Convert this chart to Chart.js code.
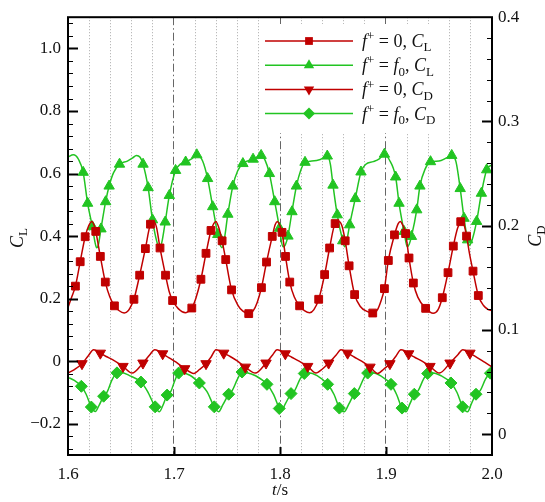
<!DOCTYPE html>
<html>
<head>
<meta charset="utf-8">
<script src="https://cdn.jsdelivr.net/npm/chart.js@4.4.1/dist/chart.umd.min.js"></script>
<style>
  html, body { margin: 0; padding: 0; background: #fff; }
  #wrap { width: 545px; height: 502px; }
</style>
</head>
<body>
<div id="wrap"><canvas id="chart" width="545" height="502"></canvas></div>
<script>
// readings [t (s), value] taken from the figure
// f+ = 0, CL (left axis)
const clBase = [
  [1.600, 0.172], [1.6035, 0.205], [1.607, 0.240], [1.6115, 0.318], [1.6162, 0.398], [1.6195, 0.433],
  [1.6225, 0.447], [1.6245, 0.436], [1.6262, 0.415], [1.6305, 0.335], [1.6352, 0.253], [1.6395, 0.205],
  [1.6438, 0.177], [1.648, 0.162], [1.653, 0.154], [1.657, 0.162], [1.660, 0.180], [1.6622, 0.198],
  [1.6676, 0.275], [1.673, 0.360], [1.6778, 0.438], [1.681, 0.446], [1.6835, 0.428], [1.6868, 0.362],
  [1.692, 0.275], [1.6955, 0.222], [1.6987, 0.194], [1.704, 0.168], [1.711, 0.155], [1.714, 0.160],
  [1.7168, 0.170], [1.7205, 0.200], [1.7254, 0.262], [1.7302, 0.345], [1.7349, 0.418], [1.7375, 0.440],
  [1.7395, 0.447], [1.742, 0.430], [1.7454, 0.385], [1.7488, 0.325], [1.7543, 0.228], [1.7605, 0.178],
  [1.765, 0.160], [1.7705, 0.152], [1.7745, 0.160], [1.7785, 0.188], [1.7825, 0.235], [1.7873, 0.317],
  [1.7927, 0.399], [1.7955, 0.437], [1.7975, 0.447], [1.7995, 0.437], [1.8019, 0.412], [1.8052, 0.335],
  [1.8092, 0.253], [1.8135, 0.205], [1.8185, 0.177], [1.823, 0.162], [1.828, 0.155], [1.832, 0.165],
  [1.8365, 0.198], [1.8421, 0.277], [1.8468, 0.362], [1.852, 0.440], [1.856, 0.446], [1.8585, 0.432],
  [1.8615, 0.385], [1.8652, 0.305], [1.8704, 0.213], [1.876, 0.174], [1.8815, 0.160], [1.8875, 0.154],
  [1.892, 0.165], [1.8955, 0.195], [1.8985, 0.232], [1.9022, 0.322], [1.908, 0.404], [1.9115, 0.440],
  [1.9135, 0.447], [1.9158, 0.435], [1.9185, 0.408], [1.9217, 0.330], [1.9258, 0.250], [1.930, 0.205],
  [1.9374, 0.169], [1.9445, 0.153], [1.949, 0.164], [1.9531, 0.203], [1.9585, 0.283], [1.9635, 0.368],
  [1.9675, 0.425], [1.9705, 0.446], [1.972, 0.448], [1.974, 0.432], [1.976, 0.400], [1.979, 0.340],
  [1.9821, 0.288], [1.9871, 0.210], [1.992, 0.178], [1.996, 0.166], [2.000, 0.161]
];
const clBaseMarks = [
  1.607, 1.6115, 1.6162, 1.6262, 1.6305, 1.6352, 1.6438, 1.6622, 1.6676, 1.673, 1.6778, 1.6868, 1.692,
  1.6987, 1.7168, 1.7254, 1.7302, 1.7349, 1.7454, 1.7488, 1.7543, 1.7705, 1.7825, 1.7873, 1.7927, 1.8019,
  1.8052, 1.8092, 1.8185, 1.8365, 1.8421, 1.8468, 1.852, 1.8615, 1.8652, 1.8704, 1.8875, 1.8985, 1.9022,
  1.908, 1.9185, 1.9217, 1.9258, 1.9374, 1.9531, 1.9585, 1.9635, 1.9705, 1.976, 1.9821, 1.9871
];

// f+ = f0, CL (left axis)
const clCtrl = [
  [1.600, 0.653], [1.605, 0.660], [1.610, 0.645], [1.6143, 0.604], [1.6185, 0.505], [1.623, 0.430],
  [1.6255, 0.380], [1.627, 0.363], [1.6285, 0.370], [1.6311, 0.423], [1.6355, 0.510], [1.6388, 0.560],
  [1.643, 0.603], [1.6486, 0.630], [1.656, 0.640], [1.661, 0.650], [1.6645, 0.658], [1.668, 0.652],
  [1.6708, 0.630], [1.6756, 0.555], [1.6797, 0.452], [1.684, 0.380], [1.6865, 0.363], [1.6885, 0.380],
  [1.6917, 0.445], [1.6956, 0.530], [1.7015, 0.610], [1.706, 0.630], [1.711, 0.637], [1.717, 0.648],
  [1.7215, 0.660], [1.727, 0.640], [1.7317, 0.584], [1.7365, 0.494], [1.7413, 0.405], [1.7435, 0.372],
  [1.7452, 0.363], [1.747, 0.380], [1.7508, 0.470], [1.7555, 0.560], [1.760, 0.608], [1.765, 0.632],
  [1.7746, 0.646], [1.7822, 0.658], [1.786, 0.642], [1.790, 0.600], [1.795, 0.510], [1.7995, 0.425],
  [1.8015, 0.380], [1.803, 0.366], [1.805, 0.372], [1.8075, 0.400], [1.8113, 0.478], [1.8155, 0.560],
  [1.8195, 0.610], [1.8236, 0.636], [1.830, 0.640], [1.838, 0.645], [1.8446, 0.656], [1.8475, 0.630],
  [1.850, 0.563], [1.854, 0.468], [1.8592, 0.385], [1.861, 0.366], [1.863, 0.385], [1.8657, 0.436],
  [1.871, 0.520], [1.8764, 0.605], [1.881, 0.630], [1.888, 0.638], [1.894, 0.648], [1.8985, 0.662],
  [1.903, 0.645], [1.9091, 0.589], [1.9123, 0.505], [1.917, 0.415], [1.920, 0.366], [1.922, 0.375],
  [1.924, 0.399], [1.929, 0.484], [1.932, 0.560], [1.937, 0.615], [1.942, 0.638], [1.950, 0.640],
  [1.957, 0.650], [1.962, 0.658], [1.966, 0.638], [1.970, 0.552], [1.9736, 0.457], [1.977, 0.388],
  [1.9785, 0.370], [1.981, 0.385], [1.9855, 0.447], [1.990, 0.537], [1.995, 0.612], [2.000, 0.628]
];
const clCtrlMarks = [
  1.6143, 1.6185, 1.623, 1.6311, 1.6355, 1.6388, 1.6486, 1.6708, 1.6756, 1.6797, 1.6917, 1.6956, 1.7015,
  1.711, 1.7215, 1.7317, 1.7365, 1.7413, 1.7508, 1.7555, 1.765, 1.7746, 1.7822, 1.790, 1.795, 1.7995,
  1.8075, 1.8113, 1.8155, 1.8236, 1.8446, 1.850, 1.854, 1.8592, 1.8657, 1.871, 1.8764, 1.8985, 1.9091,
  1.9123, 1.917, 1.924, 1.929, 1.932, 1.942, 1.962, 1.970, 1.9736, 1.977, 1.9855, 1.990, 1.995
];

// f+ = 0, CD (right axis)
const cdBase = [
  [1.600, 0.0586], [1.606, 0.0620], [1.6132, 0.0676], [1.619, 0.0750], [1.6242, 0.0810], [1.627, 0.0800],
  [1.6305, 0.0777], [1.636, 0.0745], [1.642, 0.0715], [1.6519, 0.0650], [1.6604, 0.0586], [1.6707, 0.0682],
  [1.677, 0.0760], [1.6818, 0.0810], [1.685, 0.0800], [1.6893, 0.0771], [1.695, 0.0735], [1.702, 0.0690],
  [1.7101, 0.0628], [1.7186, 0.0582], [1.724, 0.0620], [1.7302, 0.0676], [1.735, 0.0740], [1.7396, 0.0810],
  [1.743, 0.0800], [1.7469, 0.0777], [1.753, 0.0745], [1.760, 0.0700], [1.7673, 0.0643], [1.7767, 0.0586],
  [1.7868, 0.0682], [1.793, 0.0760], [1.7972, 0.0810], [1.8005, 0.0800], [1.805, 0.0771], [1.811, 0.0738],
  [1.818, 0.0700], [1.8261, 0.0650], [1.8339, 0.0586], [1.840, 0.0625], [1.8459, 0.0682], [1.853, 0.0760],
  [1.8575, 0.0810], [1.8605, 0.0800], [1.8638, 0.0777], [1.870, 0.0740], [1.877, 0.0700], [1.8849, 0.0643],
  [1.8921, 0.0582], [1.898, 0.0625], [1.9037, 0.0676], [1.9095, 0.0750], [1.9141, 0.0810], [1.9175, 0.0800],
  [1.9214, 0.0771], [1.927, 0.0738], [1.934, 0.0700], [1.9415, 0.0650], [1.9503, 0.0586], [1.9604, 0.0682],
  [1.968, 0.0765], [1.9723, 0.0810], [1.9755, 0.0800], [1.9792, 0.0777], [1.986, 0.0735], [1.993, 0.0690],
  [2.000, 0.0645]
];
const cdBaseMarks = [
  1.6132, 1.6305, 1.6519, 1.6707, 1.6893, 1.7101, 1.7302, 1.7469, 1.7673, 1.7868, 1.805, 1.8261, 1.8459,
  1.8638, 1.8849, 1.9037, 1.9214, 1.9415, 1.9604, 1.9792
];

// f+ = f0, CD (right axis)
const cdCtrl = [
  [1.600, 0.0545], [1.606, 0.0515], [1.6126, 0.0459], [1.617, 0.0385], [1.622, 0.0260], [1.6258, 0.0218],
  [1.629, 0.0270], [1.6336, 0.0364], [1.637, 0.0405], [1.6415, 0.0520], [1.6462, 0.0588], [1.650, 0.0592],
  [1.658, 0.0562], [1.6688, 0.0500], [1.675, 0.0410], [1.6822, 0.0262], [1.6862, 0.0215], [1.6895, 0.0275],
  [1.6935, 0.0375], [1.697, 0.0410], [1.701, 0.0520], [1.7044, 0.0586], [1.708, 0.0590], [1.715, 0.0565],
  [1.7239, 0.0491], [1.731, 0.0410], [1.738, 0.0262], [1.7421, 0.0215], [1.746, 0.0280], [1.7516, 0.0383],
  [1.755, 0.0420], [1.760, 0.0530], [1.7642, 0.0596], [1.768, 0.0592], [1.777, 0.0560], [1.7877, 0.0478],
  [1.794, 0.0380], [1.7993, 0.0246], [1.801, 0.0220], [1.805, 0.0290], [1.8104, 0.0389], [1.814, 0.0420],
  [1.819, 0.0530], [1.8229, 0.0582], [1.827, 0.0590], [1.835, 0.0562], [1.8449, 0.0478], [1.851, 0.0380],
  [1.856, 0.0250], [1.8605, 0.0215], [1.865, 0.0290], [1.8701, 0.0389], [1.874, 0.0425], [1.879, 0.0535],
  [1.8827, 0.0586], [1.887, 0.0590], [1.895, 0.0560], [1.9047, 0.0478], [1.910, 0.0380], [1.9151, 0.0250],
  [1.9188, 0.0215], [1.9225, 0.0290], [1.9267, 0.0383], [1.9305, 0.0420], [1.9355, 0.0530], [1.9393, 0.0582],
  [1.943, 0.0590], [1.952, 0.0560], [1.9613, 0.0491], [1.967, 0.0400], [1.9723, 0.0262], [1.977, 0.0215],
  [1.9805, 0.0290], [1.9849, 0.0383], [1.989, 0.0420], [1.994, 0.0530], [1.9985, 0.0585], [2.000, 0.0588]
];
const cdCtrlMarks = [
  1.6126, 1.622, 1.6336, 1.6462, 1.6688, 1.6822, 1.6935, 1.7044, 1.7239, 1.738, 1.7516, 1.7642, 1.7877,
  1.7993, 1.8104, 1.8229, 1.8449, 1.856, 1.8701, 1.8827, 1.9047, 1.9151, 1.9267, 1.9393, 1.9613, 1.9723,
  1.9849, 1.9985
];

// axis ticks
const tMajor = [1.6, 1.7, 1.8, 1.9, 2.0];
const clTicks = [-0.2, 0, 0.2, 0.4, 0.6, 0.8, 1.0];
const cdTicks = [0, 0.1, 0.2, 0.3, 0.4];

const RED = "#c00000";
const GREEN = "#22c422";
const FONT = "'Liberation Serif', 'Times New Roman', serif";
const TEXT = "#111";

Chart.defaults.font.family = FONT;

// dotted grid every 0.02 s
const tGrid = [];
for (let i = 0; i <= 20; i++) tGrid.push(Math.round((1.6 + i * 0.02) * 100) / 100);

function isTenth(v) {
  return Math.abs(v * 10 - Math.round(v * 10)) < 1e-6;
}

function fmtAxis(v) {
  if (Math.abs(v) < 1e-9) return "0";
  if (v < 0) return "\u2212" + Math.abs(v).toFixed(1);
  return v.toFixed(1);
}

function toPoints(series) {
  return series.map((p) => ({ x: p[0], y: p[1] }));
}

function markPoints(series, marks) {
  return marks.map((t) => {
    const p = series.find((q) => q[0] === t);
    return { x: p[0], y: p[1] };
  });
}

function curveSet(series, color, axis) {
  return {
    data: toPoints(series),
    yAxisID: axis,
    borderColor: color,
    borderWidth: 1.5,
    pointRadius: 0,
    pointHoverRadius: 0,
    cubicInterpolationMode: "monotone",
    fill: false,
  };
}

function markSet(series, marks, color, axis, style, radius, rotation) {
  return {
    data: markPoints(series, marks),
    yAxisID: axis,
    showLine: false,
    pointStyle: style,
    pointRadius: radius,
    pointHoverRadius: radius,
    pointRotation: rotation || 0,
    backgroundColor: color,
    borderColor: color,
    borderWidth: 1,
  };
}

// mixed italic / sub / sup text
function drawRich(ctx, parts, x, y, size, align) {
  const fontOf = (p) =>
    (p.i ? "italic " : "") + (p.s ? Math.round(size * 0.72) : size) + "px " + FONT;
  let w = 0;
  parts.forEach((p) => {
    ctx.font = fontOf(p);
    w += ctx.measureText(p.t).width;
  });
  let cx = align === "center" ? x - w / 2 : x;
  ctx.textAlign = "left";
  ctx.textBaseline = "alphabetic";
  ctx.fillStyle = TEXT;
  parts.forEach((p) => {
    ctx.font = fontOf(p);
    const dy = p.s === "sub" ? size * 0.24 : p.s === "sup" ? -size * 0.38 : 0;
    ctx.fillText(p.t, cx, y + dy);
    cx += ctx.measureText(p.t).width;
  });
}

function drawMarker(ctx, style, x, y, r, color) {
  ctx.fillStyle = color;
  ctx.beginPath();
  if (style === "rect") {
    const s = r * Math.SQRT1_2;
    ctx.rect(x - s, y - s, 2 * s, 2 * s);
  } else if (style === "triangle") {
    ctx.moveTo(x, y - r);
    ctx.lineTo(x + r * 0.866, y + r / 2);
    ctx.lineTo(x - r * 0.866, y + r / 2);
  } else if (style === "down") {
    ctx.moveTo(x, y + r);
    ctx.lineTo(x + r * 0.866, y - r / 2);
    ctx.lineTo(x - r * 0.866, y - r / 2);
  } else {
    ctx.moveTo(x, y - r);
    ctx.lineTo(x + r, y);
    ctx.lineTo(x, y + r);
    ctx.lineTo(x - r, y);
  }
  ctx.closePath();
  ctx.fill();
}

const legendItems = [
  { color: RED, style: "rect", r: 5.5, parts: [{ t: "f", i: 1 }, { t: "+", s: "sup" }, { t: " = 0, " }, { t: "C", i: 1 }, { t: "L", s: "sub" }] },
  { color: GREEN, style: "triangle", r: 6, parts: [{ t: "f", i: 1 }, { t: "+", s: "sup" }, { t: " = " }, { t: "f", i: 1 }, { t: "0", s: "sub" }, { t: ", " }, { t: "C", i: 1 }, { t: "L", s: "sub" }] },
  { color: RED, style: "down", r: 6, parts: [{ t: "f", i: 1 }, { t: "+", s: "sup" }, { t: " = 0, " }, { t: "C", i: 1 }, { t: "D", s: "sub" }] },
  { color: GREEN, style: "diamond", r: 6, parts: [{ t: "f", i: 1 }, { t: "+", s: "sup" }, { t: " = " }, { t: "f", i: 1 }, { t: "0", s: "sub" }, { t: ", " }, { t: "C", i: 1 }, { t: "D", s: "sub" }] },
];

// frame, inward ticks, legend and axis titles
const decorPlugin = {
  id: "decor",
  afterDatasetsDraw(chart) {
    const { ctx, chartArea: a, scales } = chart;
    ctx.save();
    ctx.strokeStyle = "#000";

    // left axis ticks (CL), every 0.04
    for (let k = -7; k <= 27; k++) {
      const major = k % 5 === 0;
      const y = Math.round(scales.y.getPixelForValue(k * 0.04)) + 0.5;
      ctx.lineWidth = major ? 2 : 1;
      ctx.beginPath();
      ctx.moveTo(a.left, y);
      ctx.lineTo(a.left + (major ? 10 : 5), y);
      ctx.stroke();
    }
    // right axis ticks (CD), every 0.02
    for (let k = 0; k <= 19; k++) {
      const major = k % 5 === 0;
      const y = Math.round(scales.y1.getPixelForValue(k * 0.02)) + 0.5;
      ctx.lineWidth = major ? 2 : 1;
      ctx.beginPath();
      ctx.moveTo(a.right, y);
      ctx.lineTo(a.right - (major ? 10 : 5), y);
      ctx.stroke();
    }
    // bottom ticks
    tMajor.slice(1, -1).forEach((t) => {
      const x = Math.round(scales.x.getPixelForValue(t)) + 0.5;
      ctx.lineWidth = 2;
      ctx.beginPath();
      ctx.moveTo(x, a.bottom);
      ctx.lineTo(x, a.bottom - 8);
      ctx.stroke();
    });

    // frame
    ctx.lineWidth = 2;
    ctx.strokeRect(a.left, a.top, a.right - a.left, a.bottom - a.top);

    // legend
    ctx.fillStyle = "#fff";
    ctx.fillRect(261, 24, 185, 109);
    legendItems.forEach((item, i) => {
      const y = 41 + i * 24.2;
      ctx.strokeStyle = item.color;
      ctx.lineWidth = 1.5;
      ctx.beginPath();
      ctx.moveTo(265, y);
      ctx.lineTo(353, y);
      ctx.stroke();
      drawMarker(ctx, item.style, 309, y, item.r, item.color);
      drawRich(ctx, item.parts, 362, y + 6, 18, "left");
    });

    // axis titles
    drawRich(ctx, [{ t: "t", i: 1 }, { t: "/s" }], (a.left + a.right) / 2, 495, 17, "center");
    ctx.save();
    ctx.translate(23, 238);
    ctx.rotate(-Math.PI / 2);
    drawRich(ctx, [{ t: "C", i: 1 }, { t: "L", s: "sub" }], 0, 0, 18, "center");
    ctx.restore();
    ctx.save();
    ctx.translate(541, 236);
    ctx.rotate(-Math.PI / 2);
    drawRich(ctx, [{ t: "C", i: 1 }, { t: "D", s: "sub" }], 0, 0, 18, "center");
    ctx.restore();

    ctx.restore();
  },
};

const tickFont = { family: FONT, size: 17 };

new Chart(document.getElementById("chart"), {
  type: "line",
  data: {
    datasets: [
      curveSet(clBase, RED, "y"),
      markSet(clBase, clBaseMarks, RED, "y", "rect", 5.5),
      curveSet(clCtrl, GREEN, "y"),
      markSet(clCtrl, clCtrlMarks, GREEN, "y", "triangle", 6),
      curveSet(cdBase, RED, "y1"),
      markSet(cdBase, cdBaseMarks, RED, "y1", "triangle", 6, 180),
      curveSet(cdCtrl, GREEN, "y1"),
      markSet(cdCtrl, cdCtrlMarks, GREEN, "y1", "rectRot", 6),
    ],
  },
  options: {
    responsive: false,
    animation: false,
    devicePixelRatio: 1,
    layout: { padding: { top: 15, left: 0, right: 0, bottom: 0 } },
    plugins: {
      legend: { display: false },
      tooltip: { enabled: false },
    },
    scales: {
      x: {
        type: "linear",
        min: 1.6,
        max: 2.0,
        afterBuildTicks: (s) => {
          s.ticks = tGrid.map((v) => ({ value: v }));
        },
        afterFit: (s) => {
          s.height = 47;
        },
        ticks: {
          autoSkip: false,
          maxRotation: 0,
          padding: 9,
          color: TEXT,
          font: tickFont,
          callback: (v) => (isTenth(v) ? v.toFixed(1) : ""),
        },
        grid: {
          drawTicks: false,
          lineWidth: 1,
          color: (ctx) => {
            const v = ctx.tick ? ctx.tick.value : 0;
            if (v <= 1.6001 || v >= 1.9999) return "rgba(0,0,0,0)";
            return isTenth(v) ? "#666" : "#aaa";
          },
        },
        border: {
          display: false,
          dash: (ctx) => {
            const v = ctx.tick ? ctx.tick.value : 0;
            return isTenth(v) ? [8, 3, 1.5, 3] : [1, 2];
          },
        },
      },
      y: {
        type: "linear",
        position: "left",
        min: -0.3,
        max: 1.1,
        afterBuildTicks: (s) => {
          s.ticks = clTicks.map((v) => ({ value: v }));
        },
        afterFit: (s) => {
          s.width = 68;
        },
        ticks: { padding: 7, color: TEXT, font: tickFont, callback: (v) => fmtAxis(v) },
        grid: { drawOnChartArea: false, drawTicks: false },
        border: { display: false },
      },
      y1: {
        type: "linear",
        position: "right",
        min: -0.02,
        max: 0.4,
        afterBuildTicks: (s) => {
          s.ticks = cdTicks.map((v) => ({ value: v }));
        },
        afterFit: (s) => {
          s.width = 53;
        },
        ticks: { padding: 6, color: TEXT, font: tickFont, callback: (v) => fmtAxis(v) },
        grid: { drawOnChartArea: false, drawTicks: false },
        border: { display: false },
      },
    },
  },
  plugins: [decorPlugin],
});
</script>
</body>
</html>
